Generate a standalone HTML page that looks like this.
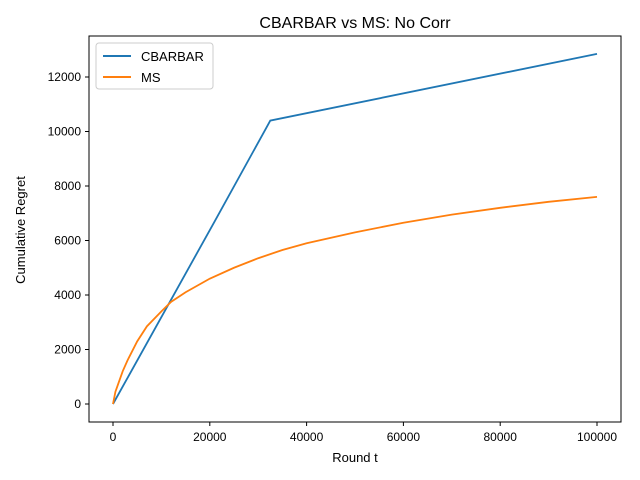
<!DOCTYPE html>
<html><head><meta charset="utf-8"><style>
body{margin:0;background:#fff;}
svg{display:block;font-family:"Liberation Sans","DejaVu Sans",sans-serif;}
</style></head><body>
<svg id="chart" width="640" height="480">
<rect x="0" y="0" width="640" height="480" fill="#fff"/>
<text x="355" y="28" font-size="16" text-anchor="middle">CBARBAR vs MS: No Corr</text>
<g id="plot"></g>
<rect x="89" y="36" width="532" height="386" fill="none" stroke="#000" stroke-width="1"/>
<text x="355" y="462" font-size="13" text-anchor="middle">Round t</text>
<text transform="translate(25,230) rotate(-90)" font-size="13" text-anchor="middle">Cumulative Regret</text>
<g>
<rect x="96" y="43" width="117" height="46" fill="#fff" stroke="#ccc" rx="3"/>
<line x1="103" y1="56" x2="131" y2="56" stroke="#1f77b4" stroke-width="2"/>
<text x="141" y="61" font-size="13">CBARBAR</text>
<line x1="103" y1="77" x2="131" y2="77" stroke="#ff7f0e" stroke-width="2"/>
<text x="141" y="82" font-size="13">MS</text>
</g>
</svg>
<script>
const xTicks=[0,20000,40000,60000,80000,100000];
const yTicks=[0,2000,4000,6000,8000,10000,12000];
const cbT=[0,21000,32500,100000];
const cbV=[0,6700,10400,12850];
const msT=[0,500,1000,2000,3000,5000,7000,10000,12000,15000,20000,25000,30000,35000,40000,50000,60000,70000,80000,90000,100000];
const msV=[0,450,700,1200,1600,2300,2850,3400,3750,4100,4600,5000,5350,5650,5900,6300,6650,6950,7200,7420,7600];
const X=v=>113+v*0.00484;
const Y=v=>404-v*0.02725;
const ns="http://www.w3.org/2000/svg";
const g=document.getElementById('plot');
function mk(t,a){const e=document.createElementNS(ns,t);for(const k in a)e.setAttribute(k,a[k]);g.appendChild(e);return e;}
xTicks.forEach(v=>{
const l=mk('line',{x1:X(v),x2:X(v),y1:422,y2:426,stroke:'#000'});


const t=mk('text',{x:X(v),y:441,'font-size':12,'text-anchor':'middle'});t.textContent=v;


});
yTicks.forEach(v=>{
const l=mk('line',{x1:85,x2:89,y1:Y(v),y2:Y(v),stroke:'#000'});


const t=mk('text',{x:81,y:Y(v)+4,'font-size':12,'text-anchor':'end'});t.textContent=v;


});
const p1=mk('polyline',{points:cbT.map((t,i)=>X(t)+','+Y(cbV[i])).join(' '),fill:'none',stroke:'#1f77b4','stroke-width':1.8});


const p2=mk('polyline',{points:msT.map((t,i)=>X(t)+','+Y(msV[i])).join(' '),fill:'none',stroke:'#ff7f0e','stroke-width':1.8});


</script>
</body></html>
